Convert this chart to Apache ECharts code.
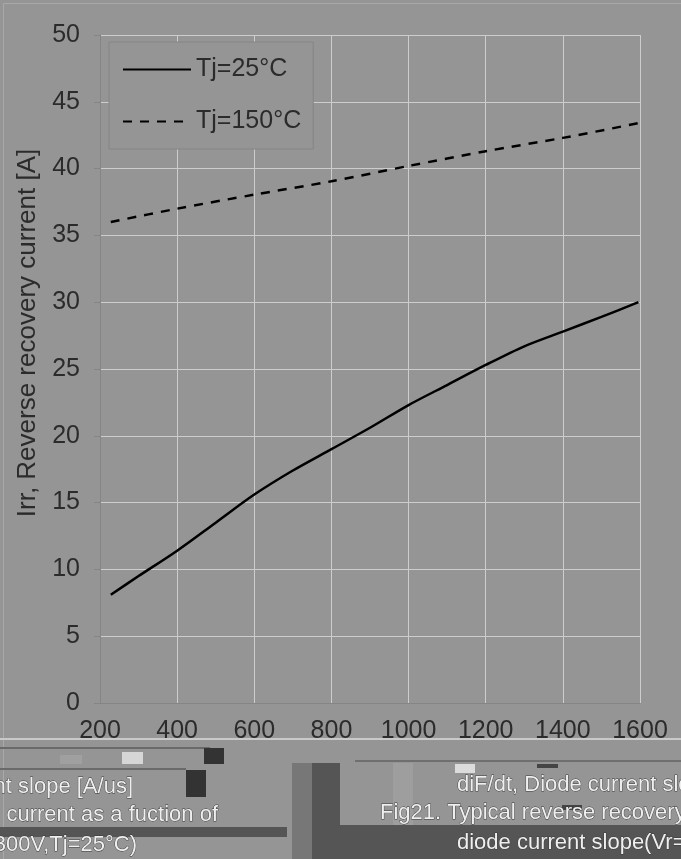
<!DOCTYPE html>
<html>
<head>
<meta charset="utf-8">
<script src="https://cdn.jsdelivr.net/npm/echarts@6/dist/echarts.min.js"></script>
<style>
html,body{margin:0;padding:0;background:#959595;}
#c{width:681px;height:859px;}
</style>
</head>
<body>
<div id="c"></div>
<script>
// ---- data ----
const xTicks = [200, 400, 600, 800, 1000, 1200, 1400, 1600];
const yTicks = [0, 5, 10, 15, 20, 25, 30, 35, 40, 45, 50];
const seriesNames = ['Tj=25°C', 'Tj=150°C'];
const x25 = [228, 300, 400, 500, 600, 700, 800, 900, 1000, 1100, 1200, 1300, 1400, 1500, 1596];
const y25 = [8.1, 9.5, 11.4, 13.5, 15.6, 17.4, 19.0, 20.6, 22.3, 23.8, 25.3, 26.7, 27.8, 28.9, 30.0];
const x150 = [228, 400, 600, 800, 1000, 1200, 1400, 1596];
const y150 = [36.0, 37.0, 38.05, 39.05, 40.2, 41.3, 42.3, 43.4];
const yTitle = 'Irr, Reverse recovery current [A]';
const captionLeft = ['current slope [A/us]', 'current as a fuction of', 'slope(Vr=300V,Tj=25°C)'];
const captionRight = ['diF/dt, Diode current slope [A/us]', 'Fig21. Typical reverse recovery current', 'diode current slope(Vr=300V,Tj=25°C)'];

const FONT = "'Liberation Sans','DejaVu Sans',sans-serif";
const TXT = '#2b2b2b';
const chart = echarts.init(document.getElementById('c'), null, {renderer: 'canvas'});

const zip = (xs, ys) => xs.map((x, i) => [x, ys[i]]);

const capStyle = {fill: '#efefef', stroke: '#3a3a3a', lineWidth: 0.8, fontSize: 22, fontFamily: FONT};
const graphics = [
  {type: 'rect', shape: {x: 3.5, y: 3.5, width: 700, height: 900}, style: {fill: 'none', stroke: '#a8a8a8', lineWidth: 1}, silent: true},
  {type: 'text', x: 28, y: 333, rotation: Math.PI / 2, style: {text: yTitle, fill: TXT, fontSize: 26, fontFamily: FONT, align: 'center', verticalAlign: 'middle'}},
  {type: 'rect', shape: {x: 0, y: 738, width: 681, height: 2}, style: {fill: '#c9c9c9'}, silent: true},
  {type: 'rect', shape: {x: 0, y: 747, width: 210, height: 2}, style: {fill: '#6a6a6a'}, silent: true},
  {type: 'rect', shape: {x: 122, y: 752, width: 21, height: 12}, style: {fill: '#d6d6d6'}, silent: true},
  {type: 'rect', shape: {x: 60, y: 755, width: 22, height: 9}, style: {fill: '#a0a0a0'}, silent: true},
  {type: 'rect', shape: {x: 204, y: 748, width: 20, height: 16}, style: {fill: '#333333'}, silent: true},
  {type: 'rect', shape: {x: 0, y: 768, width: 186, height: 2}, style: {fill: '#6a6a6a'}, silent: true},
  {type: 'rect', shape: {x: 186, y: 770, width: 20, height: 27}, style: {fill: '#333333'}, silent: true},
  {type: 'rect', shape: {x: 0, y: 827, width: 287, height: 10}, style: {fill: '#555555'}, silent: true},
  {type: 'rect', shape: {x: 292, y: 763, width: 20, height: 96}, style: {fill: '#777777'}, silent: true},
  {type: 'rect', shape: {x: 312, y: 763, width: 28, height: 96}, style: {fill: '#555555'}, silent: true},
  {type: 'rect', shape: {x: 340, y: 825, width: 341, height: 34}, style: {fill: '#555555'}, silent: true},
  {type: 'rect', shape: {x: 393, y: 763, width: 20, height: 62}, style: {fill: '#9e9e9e'}, silent: true},
  {type: 'rect', shape: {x: 455, y: 764, width: 20, height: 9}, style: {fill: '#dcdcdc'}, silent: true},
  {type: 'rect', shape: {x: 537, y: 764, width: 21, height: 4}, style: {fill: '#444444'}, silent: true},
  {type: 'rect', shape: {x: 562, y: 805, width: 20, height: 5}, style: {fill: '#444444'}, silent: true},
  {type: 'rect', shape: {x: 355, y: 760, width: 326, height: 2}, style: {fill: '#6f6f6f'}, silent: true},
];
captionLeft.forEach((t, i) => {
  const xr = [133, 218, 137][i];
  const yy = [787, 815, 845][i];
  graphics.push({type: 'text', x: xr, y: yy, style: Object.assign({text: t, align: 'right', verticalAlign: 'middle'}, capStyle)});
});
captionRight.forEach((t, i) => {
  const xl = [457, 380, 457][i];
  const yy = [785, 813, 843][i];
  graphics.push({type: 'text', x: xl, y: yy, style: Object.assign({text: t, align: 'left', verticalAlign: 'middle'}, capStyle)});
});

chart.setOption({
  backgroundColor: '#959595',
  animation: false,
  grid: {left: 100, right: 41, top: 35, bottom: 156, containLabel: false},
  legend: {
    orient: 'vertical', left: 109, top: 42,
    padding: [15, 12, 15, 13],
    itemWidth: 68, itemHeight: 14, itemGap: 27,
    backgroundColor: '#959595', borderColor: '#858585', borderWidth: 1,
    itemStyle: {opacity: 0},
    textStyle: {fontSize: 25, color: TXT, fontFamily: FONT},
    data: seriesNames
  },
  xAxis: {
    type: 'value', min: xTicks[0], max: xTicks[xTicks.length - 1], interval: 200,
    axisLine: {show: true, lineStyle: {color: '#858585', width: 1}},
    axisTick: {show: false},
    axisLabel: {fontSize: 25, color: TXT, fontFamily: FONT, margin: 16, showMinLabel: true, showMaxLabel: true,
                formatter: v => String(v)},
    splitLine: {show: true, lineStyle: {color: '#cdcdcd', width: 1}}
  },
  yAxis: {
    type: 'value', min: yTicks[0], max: yTicks[yTicks.length - 1], interval: 5,
    axisLine: {show: true, lineStyle: {color: '#858585', width: 1}},
    axisTick: {show: true, length: 6, lineStyle: {color: '#858585'}},
    axisLabel: {fontSize: 25, color: TXT, fontFamily: FONT, margin: 20, formatter: v => String(v)},
    splitLine: {show: true, lineStyle: {color: '#cdcdcd', width: 1}}
  },
  graphic: graphics,
  series: [
    {name: seriesNames[0], type: 'line', data: zip(x25, y25), smooth: 0.3, showSymbol: false, symbol: 'none',
     lineStyle: {color: '#000', width: 2.5}, itemStyle: {color: '#000'}},
    {name: seriesNames[1], type: 'line', data: zip(x150, y150), smooth: 0.3, showSymbol: false, symbol: 'none',
     lineStyle: {color: '#000', width: 2.5, type: [9, 8]}, itemStyle: {color: '#000'}}
  ]
});
</script>
</body>
</html>
